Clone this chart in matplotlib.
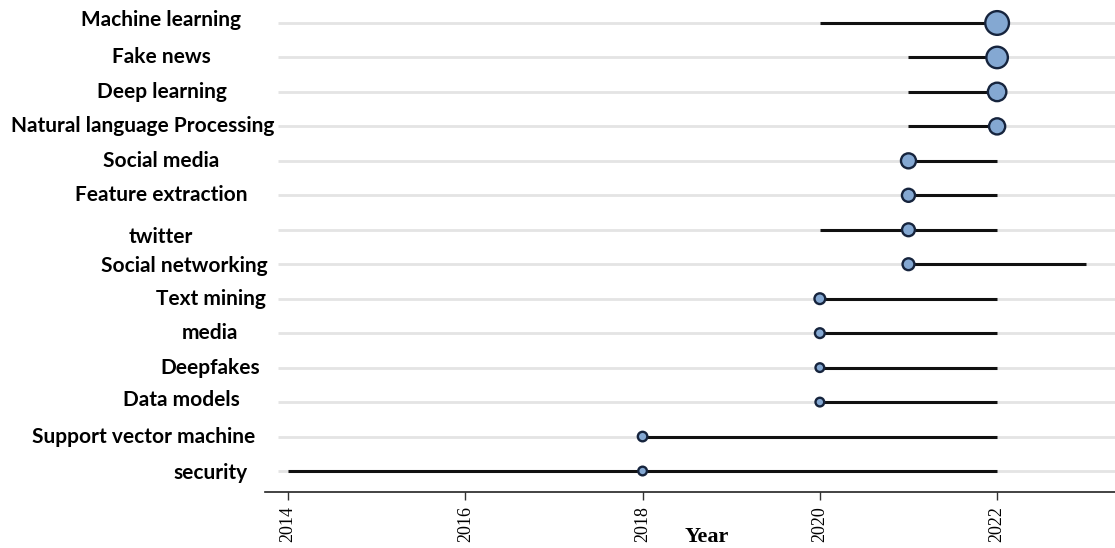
import numpy as np
import matplotlib
matplotlib.use("Agg")
from matplotlib import pyplot as plt

# trend topics data
terms = ["security", "Support vector machine", "Data models", "Deepfakes", "media",
         "Text mining", "Social networking", "twitter", "Feature extraction",
         "Social media", "Natural language Processing", "Deep learning",
         "Fake news", "Machine learning"]
year_start = [2014, 2018, 2020, 2020, 2020, 2020, 2021, 2020, 2021, 2021, 2021, 2021, 2021, 2020]
year_median = [2018, 2018, 2020, 2020, 2020, 2020, 2021, 2021, 2021, 2021, 2022, 2022, 2022, 2022]
year_end = [2022, 2022, 2022, 2022, 2022, 2022, 2023, 2022, 2022, 2022, 2022, 2022, 2022, 2022]
freq = [15, 18, 15, 15, 19, 23, 28, 33, 34, 45, 52, 68, 92, 112]
year_ticks = [2014, 2016, 2018, 2020, 2022]

# label centre positions (pixels from left) to mimic the hand-placed labels
label_x = [210, 144, 181, 210, 210, 211, 184, 161, 161, 161, 143, 162, 161, 161]
label_dy = [2, 0, -2, 0, 0, 0, 2, 7, 0, 0, 0, 0, 0, -3]

W, H = 1115, 548
fig = plt.figure(figsize=(W / 100, H / 100), dpi=100)
ax = fig.add_axes([265 / W, 1 - 492 / H, 1 - 265 / W, 492 / H])

y = np.arange(len(terms))
ax.set_xlim(2013.74, 2023.33)
ax.set_ylim(-0.609, 13.667)

# grey gridlines
ax.hlines(y, 2013.89, 2023.33, color="#e4e4e4", lw=2, zorder=0)
# year ranges
ax.hlines(y, year_start, year_end, color="#111111", lw=2.2, zorder=2)
# median year points sized by frequency
sizes = np.array(freq) * 2.6
ax.scatter(year_median, y, s=sizes, color="#84a8d2", edgecolor="#16243d",
           linewidth=1.7, zorder=3)

ax.set_yticks([])
ax.set_xticks(year_ticks)
ax.set_xticklabels([str(t) for t in year_ticks], rotation=90,
                   fontfamily="Liberation Serif", fontsize=13)
ax.tick_params(axis="x", length=6, width=1, color="#333333", pad=4)
for s in ["top", "right", "left"]:
    ax.spines[s].set_visible(False)
ax.spines["bottom"].set_color("#222222")
ax.spines["bottom"].set_linewidth(1.2)

for i, t in enumerate(terms):
    py = 471 - i * 34.46 + label_dy[i]
    fig.text(label_x[i] / W, 1 - py / H, t, ha="center", va="center",
             fontfamily="Lato", fontweight="bold", fontsize=15)

fig.text(707 / W, 1 - 537 / H, "Year", ha="center", va="center",
         fontfamily="Liberation Serif", fontweight="bold", fontsize=16)

fig.savefig("out.png", dpi=100)
